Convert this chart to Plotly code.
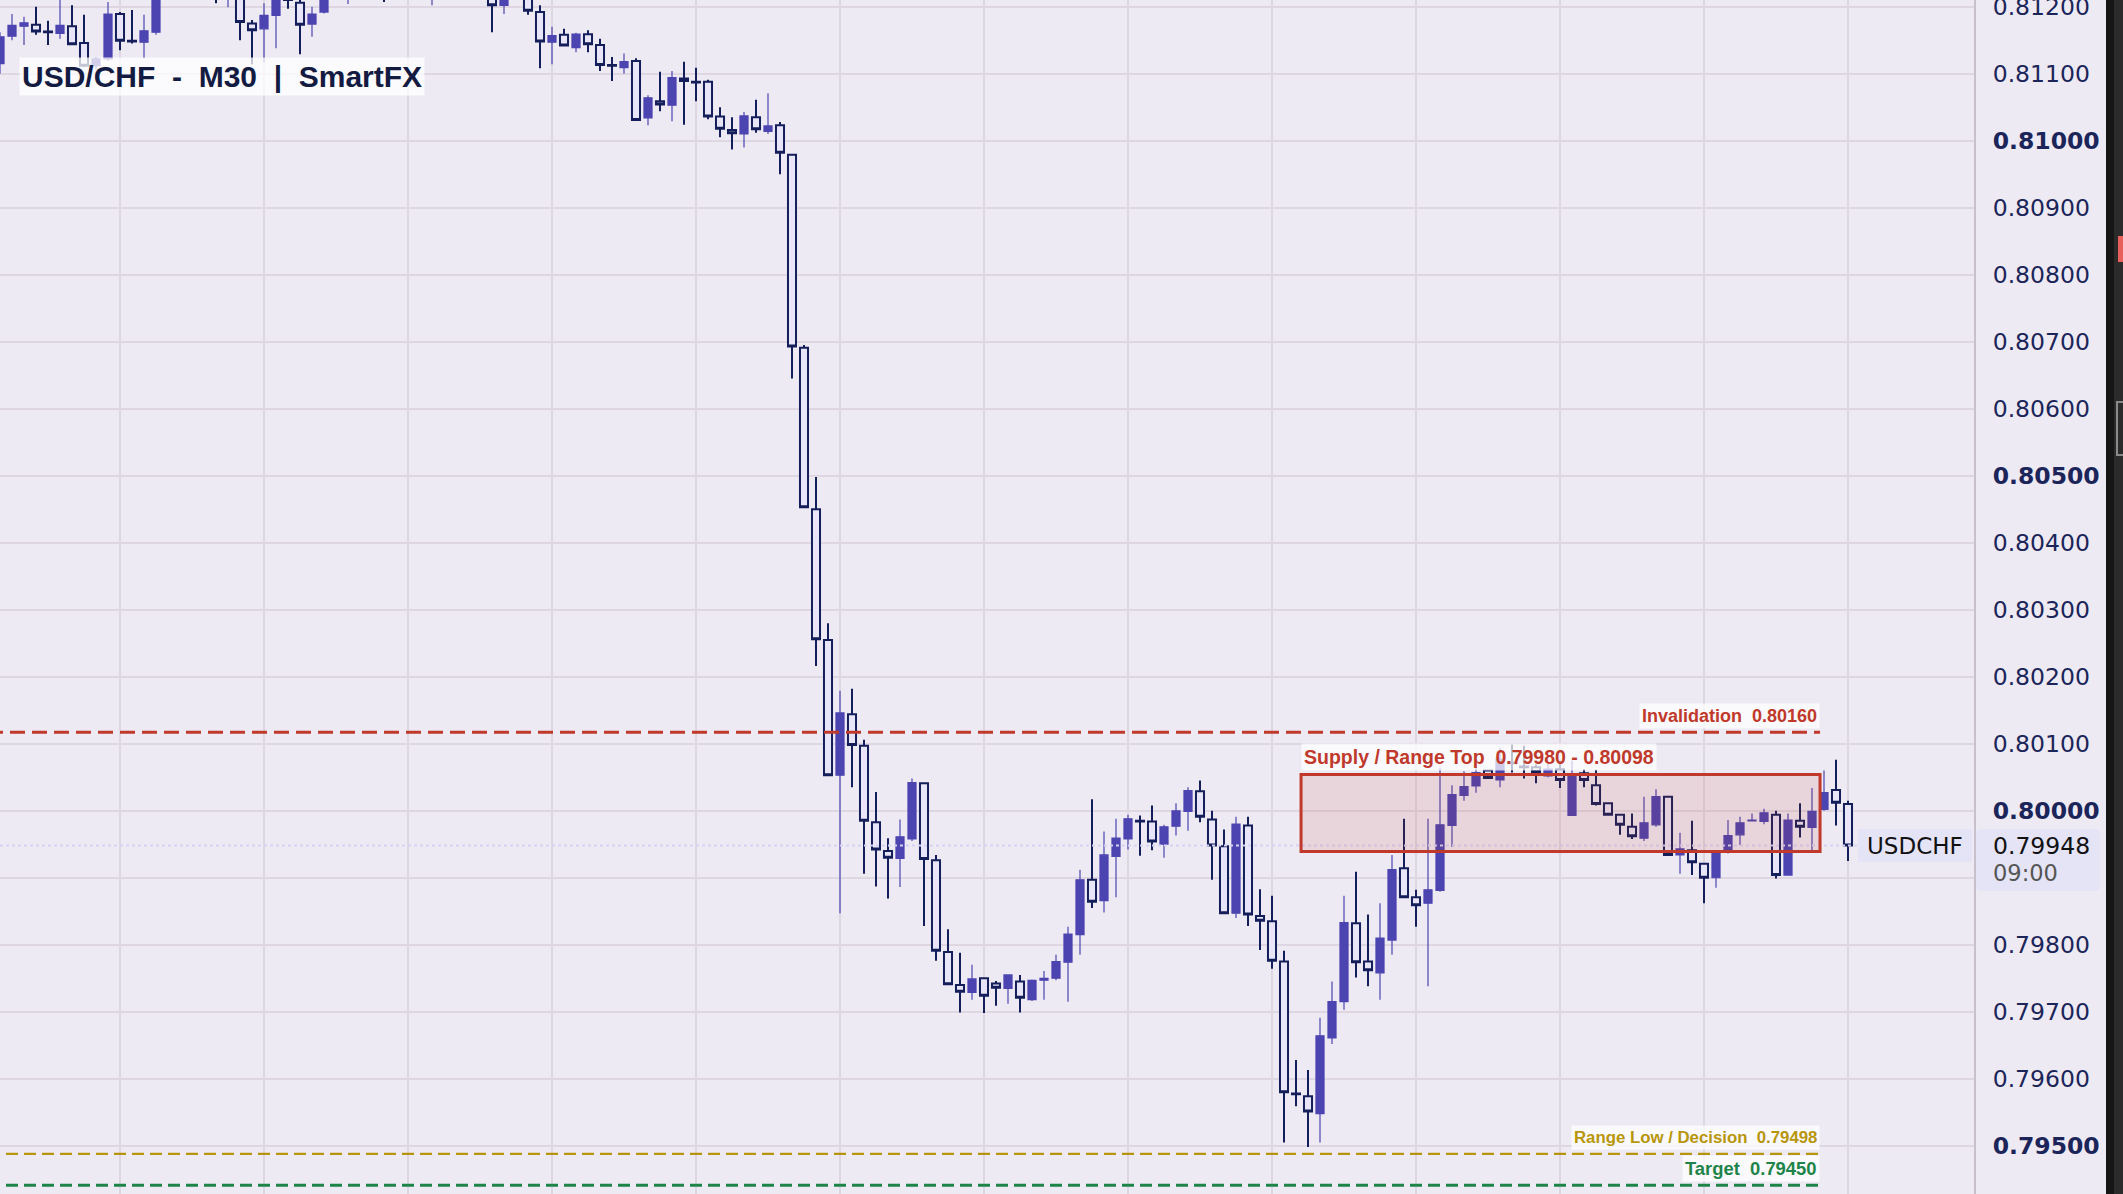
import plotly.graph_objects as go

# ---------------- data (USD/CHF, M30, one bar per 30 minutes) ----------------
bar_index = list(range(155))

opens = [
    0.81115, 0.81156, 0.81171, 0.81173, 0.81163, 0.81160, 0.81171, 0.81146, 0.81112, 0.81122,
    0.81189, 0.81149, 0.81147, 0.81162, 0.81228, 0.81245, 0.81236, 0.81250, 0.81238, 0.81222,
    0.81240, 0.81175, 0.81167, 0.81187, 0.81220, 0.81206, 0.81174, 0.81192, 0.81215, 0.81230,
    0.81245, 0.81235, 0.81250, 0.81228, 0.81240, 0.81230, 0.81222, 0.81238, 0.81228, 0.81235,
    0.81226, 0.81230, 0.81202, 0.81220, 0.81225, 0.81192, 0.81147, 0.81158, 0.81139, 0.81159,
    0.81143, 0.81113, 0.81109, 0.81119, 0.81034, 0.81059, 0.81053, 0.81093, 0.81088, 0.81088,
    0.81036, 0.81016, 0.81010, 0.81035, 0.81014, 0.81023, 0.80979, 0.80691, 0.80450, 0.80255,
    0.80053, 0.80144, 0.80097, 0.79983, 0.79940, 0.79929, 0.79958, 0.80041, 0.79926, 0.79789,
    0.79740, 0.79729, 0.79750, 0.79742, 0.79735, 0.79745, 0.79718, 0.79747, 0.79750, 0.79774,
    0.79815, 0.79897, 0.79866, 0.79932, 0.79958, 0.79985, 0.79984, 0.79950, 0.79977, 0.79999,
    0.80029, 0.79987, 0.79947, 0.79847, 0.79978, 0.79843, 0.79835, 0.79775, 0.79578, 0.79574,
    0.79548, 0.79661, 0.79715, 0.79832, 0.79775, 0.79758, 0.79807, 0.79914, 0.79871, 0.79862,
    0.79881, 0.79978, 0.80023, 0.80037, 0.80060, 0.80046, 0.80072, 0.80066, 0.80065, 0.80052,
    0.80062, 0.79993, 0.80056, 0.80038, 0.80011, 0.79994, 0.79976, 0.79959, 0.79979, 0.80021,
    0.79934, 0.79941, 0.79921, 0.79900, 0.79938, 0.79964, 0.79985, 0.79984, 0.79994, 0.79904,
    0.79985, 0.79975, 0.80002, 0.80031, 0.80010,
]
highs = [
    0.81162, 0.81189, 0.81185, 0.81200, 0.81179, 0.81215, 0.81202, 0.81188, 0.81124, 0.81207,
    0.81192, 0.81195, 0.81188, 0.81240, 0.81258, 0.81262, 0.81265, 0.81260, 0.81248, 0.81252,
    0.81248, 0.81180, 0.81205, 0.81235, 0.81240, 0.81220, 0.81200, 0.81225, 0.81240, 0.81255,
    0.81262, 0.81258, 0.81262, 0.81250, 0.81255, 0.81245, 0.81250, 0.81252, 0.81245, 0.81250,
    0.81240, 0.81240, 0.81230, 0.81238, 0.81232, 0.81202, 0.81170, 0.81167, 0.81161, 0.81165,
    0.81152, 0.81125, 0.81130, 0.81123, 0.81068, 0.81103, 0.81104, 0.81118, 0.81109, 0.81091,
    0.81050, 0.81035, 0.81043, 0.81061, 0.81071, 0.81028, 0.80980, 0.80695, 0.80498, 0.80280,
    0.80179, 0.80182, 0.80106, 0.80028, 0.79959, 0.79987, 0.80048, 0.80042, 0.79934, 0.79823,
    0.79788, 0.79770, 0.79751, 0.79746, 0.79756, 0.79755, 0.79748, 0.79761, 0.79785, 0.79827,
    0.79912, 0.80017, 0.79969, 0.79988, 0.79994, 0.79993, 0.80008, 0.79979, 0.80011, 0.80035,
    0.80045, 0.80000, 0.79972, 0.79991, 0.79991, 0.79883, 0.79873, 0.79791, 0.79628, 0.79613,
    0.79691, 0.79745, 0.79873, 0.79909, 0.79845, 0.79862, 0.79934, 0.79988, 0.79882, 0.79988,
    0.80064, 0.80038, 0.80059, 0.80080, 0.80061, 0.80094, 0.80099, 0.80097, 0.80069, 0.80072,
    0.80075, 0.80075, 0.80062, 0.80061, 0.80012, 0.79995, 0.79996, 0.80021, 0.80032, 0.80022,
    0.79967, 0.79985, 0.79922, 0.79939, 0.79986, 0.79991, 0.79996, 0.80003, 0.80000, 0.79996,
    0.80011, 0.80034, 0.80060, 0.80076, 0.80015,
]
lows = [
    0.81100, 0.81150, 0.81143, 0.81158, 0.81143, 0.81152, 0.81143, 0.81110, 0.81106, 0.81119,
    0.81135, 0.81145, 0.81123, 0.81158, 0.81215, 0.81222, 0.81225, 0.81220, 0.81205, 0.81199,
    0.81150, 0.81114, 0.81117, 0.81138, 0.81197, 0.81129, 0.81155, 0.81190, 0.81210, 0.81204,
    0.81220, 0.81218, 0.81207, 0.81215, 0.81222, 0.81215, 0.81202, 0.81220, 0.81215, 0.81220,
    0.81212, 0.81162, 0.81189, 0.81210, 0.81188, 0.81108, 0.81114, 0.81142, 0.81132, 0.81132,
    0.81104, 0.81089, 0.81100, 0.81031, 0.81023, 0.81044, 0.81029, 0.81024, 0.81059, 0.81032,
    0.81005, 0.80987, 0.80990, 0.81012, 0.81010, 0.80950, 0.80645, 0.80452, 0.80216, 0.80053,
    0.79847, 0.80035, 0.79906, 0.79887, 0.79869, 0.79886, 0.79955, 0.79828, 0.79776, 0.79740,
    0.79699, 0.79718, 0.79698, 0.79709, 0.79712, 0.79699, 0.79716, 0.79718, 0.79747, 0.79715,
    0.79785, 0.79855, 0.79848, 0.79871, 0.79942, 0.79933, 0.79941, 0.79930, 0.79963, 0.79970,
    0.79983, 0.79897, 0.79847, 0.79840, 0.79828, 0.79792, 0.79764, 0.79505, 0.79559, 0.79498,
    0.79505, 0.79652, 0.79703, 0.79751, 0.79738, 0.79718, 0.79785, 0.79870, 0.79827, 0.79738,
    0.79879, 0.79946, 0.80015, 0.80027, 0.80048, 0.80035, 0.80057, 0.80048, 0.80041, 0.80050,
    0.80034, 0.79992, 0.80035, 0.80008, 0.79993, 0.79964, 0.79958, 0.79955, 0.79976, 0.79933,
    0.79906, 0.79904, 0.79862, 0.79885, 0.79936, 0.79949, 0.79984, 0.79980, 0.79899, 0.79903,
    0.79960, 0.79940, 0.80000, 0.79978, 0.79925,
]
closes = [
    0.81155, 0.81172, 0.81176, 0.81163, 0.81162, 0.81172, 0.81144, 0.81112, 0.81122, 0.81189,
    0.81149, 0.81148, 0.81164, 0.81228, 0.81245, 0.81236, 0.81250, 0.81238, 0.81222, 0.81240,
    0.81177, 0.81165, 0.81187, 0.81220, 0.81210, 0.81173, 0.81189, 0.81215, 0.81230, 0.81245,
    0.81235, 0.81250, 0.81228, 0.81240, 0.81230, 0.81225, 0.81238, 0.81228, 0.81235, 0.81226,
    0.81230, 0.81202, 0.81220, 0.81225, 0.81194, 0.81148, 0.81157, 0.81142, 0.81159, 0.81144,
    0.81113, 0.81112, 0.81118, 0.81031, 0.81064, 0.81054, 0.81094, 0.81089, 0.81087, 0.81036,
    0.81018, 0.81011, 0.81037, 0.81017, 0.81022, 0.80982, 0.80693, 0.80453, 0.80256, 0.80053,
    0.80146, 0.80098, 0.79985, 0.79942, 0.79930, 0.79961, 0.80042, 0.79928, 0.79791, 0.79741,
    0.79730, 0.79749, 0.79724, 0.79736, 0.79755, 0.79721, 0.79747, 0.79750, 0.79775, 0.79816,
    0.79897, 0.79864, 0.79934, 0.79959, 0.79988, 0.79984, 0.79954, 0.79976, 0.80000, 0.80030,
    0.79991, 0.79948, 0.79847, 0.79980, 0.79845, 0.79836, 0.79776, 0.79580, 0.79577, 0.79551,
    0.79664, 0.79715, 0.79833, 0.79774, 0.79762, 0.79810, 0.79912, 0.79871, 0.79859, 0.79882,
    0.79979, 0.80024, 0.80036, 0.80057, 0.80049, 0.80077, 0.80071, 0.80065, 0.80058, 0.80062,
    0.80046, 0.80051, 0.80046, 0.80010, 0.79994, 0.79979, 0.79962, 0.79982, 0.80021, 0.79934,
    0.79943, 0.79923, 0.79900, 0.79938, 0.79963, 0.79982, 0.79986, 0.79997, 0.79904, 0.79986,
    0.79976, 0.79999, 0.80027, 0.80012, 0.79948,
]

ytick_values = [0.795, 0.796, 0.797, 0.798, 0.799, 0.800, 0.801, 0.802, 0.803,
                0.804, 0.805, 0.806, 0.807, 0.808, 0.809, 0.810, 0.811, 0.812]
# the 0.79900 label sits under the last-price tag, so it is left blank
ytick_labels = ["<b>0.79500</b>", "0.79600", "0.79700", "0.79800", "",
                "<b>0.80000</b>", "0.80100", "0.80200", "0.80300", "0.80400",
                "<b>0.80500</b>", "0.80600", "0.80700", "0.80800", "0.80900",
                "<b>0.81000</b>", "0.81100", "0.81200"]

# levels as drawn on the chart
invalidation_level = 0.80117
supply_low, supply_high = 0.79939, 0.80054
range_low_level = 0.79488
target_level = 0.79441
last_price = 0.79948

title_text = "USD/CHF  -  M30  |  SmartFX"
invalidation_text = "Invalidation  0.80160"
supply_text = "Supply / Range Top  0.79980 - 0.80098"
range_low_text = "Range Low / Decision  0.79498"
target_text = "Target  0.79450"
symbol_text = "USDCHF"
last_price_text = "0.79948"
bar_time_text = "09:00"

# ---------------- style ----------------
W, H = 2123, 1194
PLOT_W = 1974
BG = "#EEEAF4"
GRID = "#DED7E2"
UP = "#4C44B0"
DOWN_LINE = "#141E5A"
DOWN_FILL = "#E7E5F7"
RED = "#C0392B"
GOLD = "#B8960C"
GREEN = "#1E8449"
NAVY = "#1B2559"
ZONE_X0, LEVEL_X1 = 108.42, 151.67
X_MAX = PLOT_W / 12.0
LABEL_FONT = "Liberation Sans, Arial"

def px_x(p):
    return p / PLOT_W

def px_y(p):
    return 1 - p / H

fig = go.Figure()
fig.add_trace(go.Candlestick(
    x=bar_index, open=opens, high=highs, low=lows, close=closes,
    increasing=dict(line=dict(color=UP, width=1.2), fillcolor=UP),
    decreasing=dict(line=dict(color=DOWN_LINE, width=2), fillcolor=DOWN_FILL),
    whiskerwidth=0, showlegend=False, hoverinfo="skip",
))

shapes = [
    # last price dotted line
    dict(type="line", xref="paper", yref="y", x0=0, x1=1, y0=last_price, y1=last_price,
         line=dict(color="#D6D2F2", width=2, dash="dot"), layer="above"),
    # supply zone
    dict(type="rect", xref="x", yref="y", x0=ZONE_X0, x1=LEVEL_X1, y0=supply_low, y1=supply_high,
         fillcolor="rgba(192,57,43,0.12)", line=dict(color=RED, width=3), layer="above"),
    # invalidation
    dict(type="line", xref="x", yref="y", x0=-1, x1=LEVEL_X1, y0=invalidation_level, y1=invalidation_level,
         line=dict(color=RED, width=3, dash="15px,7px"), layer="above"),
    # range low
    dict(type="line", xref="x", yref="y", x0=-1, x1=LEVEL_X1, y0=range_low_level, y1=range_low_level,
         line=dict(color=GOLD, width=2.2, dash="12px,6px"), layer="above"),
    # target
    dict(type="line", xref="x", yref="y", x0=-1, x1=LEVEL_X1, y0=target_level, y1=target_level,
         line=dict(color=GREEN, width=3, dash="12px,6px"), layer="above"),
    # symbol tag inside plot
    dict(type="rect", xref="paper", yref="paper", x0=px_x(1858), x1=px_x(1972),
         y0=px_y(862), y1=px_y(829), fillcolor="#E5E3F6", line=dict(width=0), layer="above"),
    # dark side strip
    dict(type="rect", xref="paper", yref="paper", x0=px_x(2106), x1=px_x(2114), y0=0, y1=1,
         fillcolor="#161616", line=dict(width=0), layer="above"),
    dict(type="rect", xref="paper", yref="paper", x0=px_x(2114), x1=px_x(2130), y0=0, y1=1,
         fillcolor="#2B2B2B", line=dict(width=0), layer="above"),
    dict(type="rect", xref="paper", yref="paper", x0=px_x(2118), x1=px_x(2130),
         y0=px_y(262), y1=px_y(236), fillcolor="#E8605A", line=dict(width=0), layer="above"),
    dict(type="rect", xref="paper", yref="paper", x0=px_x(2117), x1=px_x(2132),
         y0=px_y(455), y1=px_y(402), fillcolor="rgba(0,0,0,0)", line=dict(color="#8A8A8A", width=2),
         layer="above"),
]

# price box on the axis with rounded corners
bx0, bx1, byt, byb = px_x(1976), px_x(2100), px_y(829), px_y(891)
rx, ry = 5 / PLOT_W, 5 / H
price_path = (f"M {bx0+rx},{byt} L {bx1-rx},{byt} Q {bx1},{byt} {bx1},{byt-ry} "
              f"L {bx1},{byb+ry} Q {bx1},{byb} {bx1-rx},{byb} L {bx0+rx},{byb} "
              f"Q {bx0},{byb} {bx0},{byb+ry} L {bx0},{byt-ry} Q {bx0},{byt} {bx0+rx},{byt} Z")
shapes.append(dict(type="path", xref="paper", yref="paper", path=price_path,
                   fillcolor="#E5E3F6", line=dict(width=0), layer="above"))

LABEL_BG = "rgba(255,255,255,0.72)"
annotations = [
    dict(xref="paper", yref="paper", x=px_x(19), y=px_y(57), xanchor="left", yanchor="top",
         text=f"<b>{title_text}</b>", showarrow=False, bgcolor="rgba(255,255,255,0.75)",
         borderpad=2, font=dict(family=LABEL_FONT, size=30, color="#131B42")),
    dict(xref="x", yref="y", x=LEVEL_X1, y=invalidation_level, xanchor="right", yanchor="bottom",
         yshift=3, text=f"<b>{invalidation_text}</b>", showarrow=False, bgcolor=LABEL_BG, borderpad=2,
         font=dict(family=LABEL_FONT, size=18, color=RED)),
    dict(xref="x", yref="y", x=ZONE_X0, y=supply_high, xanchor="left", yanchor="bottom",
         yshift=4, text=f"<b>{supply_text}</b>", showarrow=False, bgcolor=LABEL_BG, borderpad=2,
         font=dict(family=LABEL_FONT, size=19.5, color=RED)),
    dict(xref="x", yref="y", x=LEVEL_X1, y=range_low_level, xanchor="right", yanchor="bottom",
         yshift=4, text=f"<b>{range_low_text}</b>", showarrow=False, bgcolor=LABEL_BG, borderpad=2,
         font=dict(family=LABEL_FONT, size=16.8, color=GOLD)),
    dict(xref="x", yref="y", x=LEVEL_X1, y=target_level, xanchor="right", yanchor="bottom",
         yshift=3, text=f"<b>{target_text}</b>", showarrow=False, bgcolor=LABEL_BG, borderpad=2,
         font=dict(family=LABEL_FONT, size=18.4, color=GREEN)),
    dict(xref="paper", yref="paper", x=px_x(1915), y=px_y(845.5), xanchor="center", yanchor="middle",
         text=symbol_text, showarrow=False,
         font=dict(family="DejaVu Sans", size=23, color="#111111")),
    dict(xref="paper", yref="paper", x=px_x(1991), y=px_y(845.5), xanchor="left", yanchor="middle",
         text=last_price_text, showarrow=False,
         font=dict(family="DejaVu Sans", size=23.5, color="#111111")),
    dict(xref="paper", yref="paper", x=px_x(1991), y=px_y(873), xanchor="left", yanchor="middle",
         text=bar_time_text, showarrow=False,
         font=dict(family="DejaVu Sans", size=22.5, color="#555555")),
]

fig.update_layout(
    width=W, height=H,
    margin=dict(l=0, r=W - PLOT_W, t=0, b=0, pad=0, autoexpand=False),
    paper_bgcolor=BG, plot_bgcolor=BG,
    boxgap=0.33, boxgroupgap=0,
    showlegend=False,
    xaxis=dict(range=[0, X_MAX], rangeslider=dict(visible=False), showticklabels=False,
               ticks="", tick0=10, dtick=12, showgrid=True, gridcolor=GRID, gridwidth=1.5,
               zeroline=False, showline=False, fixedrange=True, automargin=False),
    yaxis=dict(side="right", range=[0.79428, 0.81210], tickmode="array",
               tickvals=ytick_values, ticktext=ytick_labels,
               showgrid=True, gridcolor=GRID, gridwidth=1.5, zeroline=False,
               showline=True, linecolor="#C8C0CC", linewidth=2, ticks="",
               ticklabelstandoff=12, ticklabeloverflow="allow", automargin=False,
               tickfont=dict(family="DejaVu Sans", size=23.5, color=NAVY), fixedrange=True),
    shapes=shapes,
    annotations=annotations,
)

fig.write_html("out.html", config={"displayModeBar": False},
               post_script="document.body.style.margin='0';document.body.style.overflow='hidden';")
